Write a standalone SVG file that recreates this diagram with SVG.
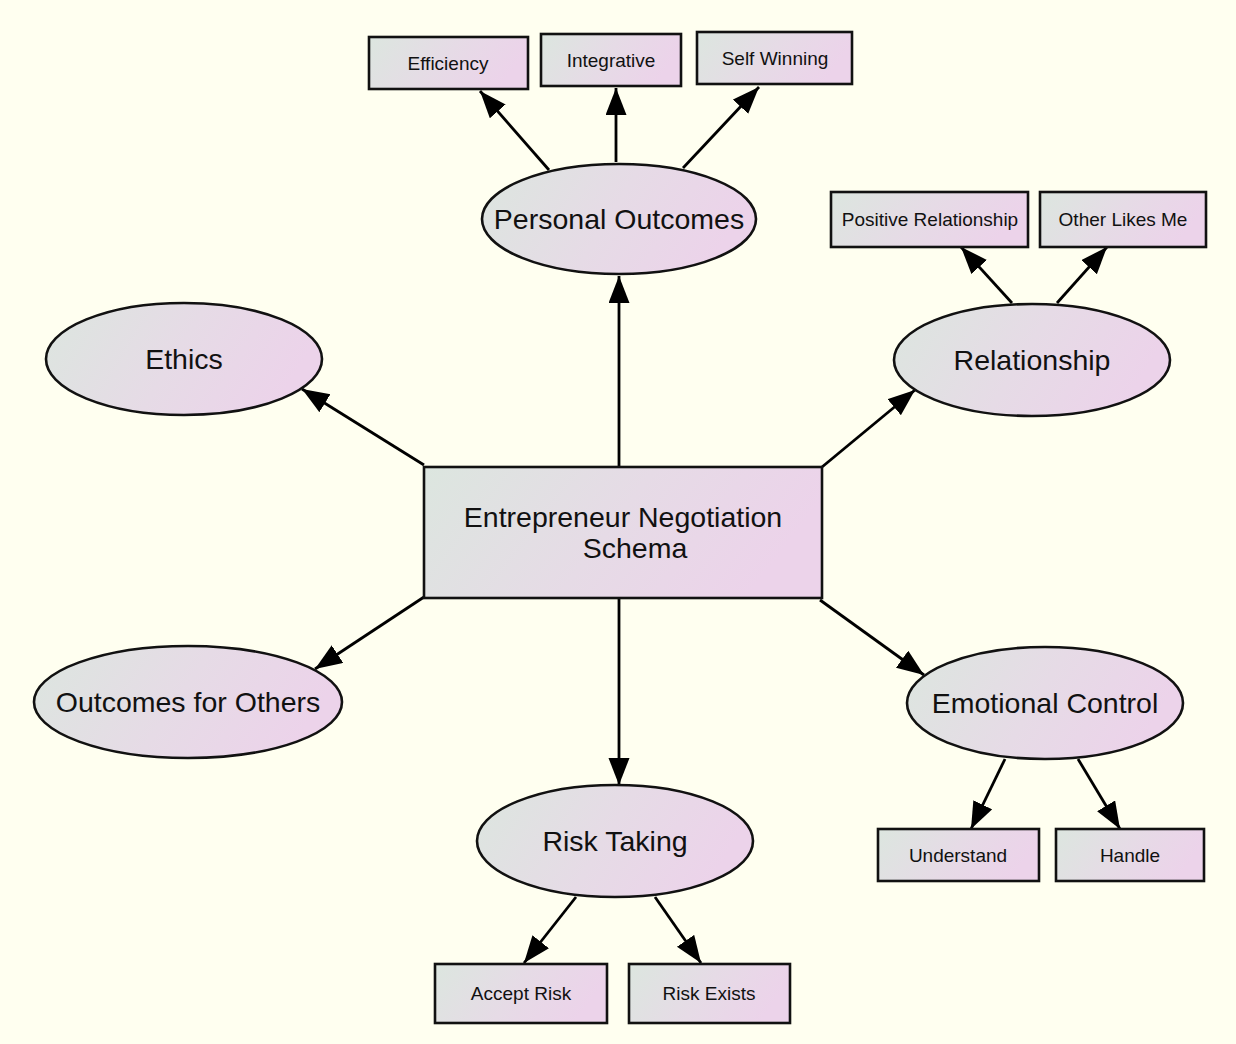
<svg xmlns="http://www.w3.org/2000/svg" width="1236" height="1044" viewBox="0 0 1236 1044">
  <style>
    .node { stroke: #111; stroke-width: 2.6; fill: url(#fillGrad); }
    .edge { stroke: #000; stroke-width: 2.8; fill: none; marker-end: url(#arrow); }
    .big { font-family: "Liberation Sans", Arial, sans-serif; font-size: 28.5px; fill: #111; text-anchor: middle; }
    .small { font-family: "Liberation Sans", Arial, sans-serif; font-size: 19px; fill: #111; text-anchor: middle; }
  </style>
  <defs>
    <linearGradient id="fillGrad" x1="0" y1="0" x2="1" y2="0.25">
      <stop offset="0" stop-color="#dce6df"/>
      <stop offset="0.55" stop-color="#e6dbe6"/>
      <stop offset="1" stop-color="#ecd3ea"/>
    </linearGradient>
    <marker id="arrow" markerUnits="userSpaceOnUse" markerWidth="28" markerHeight="22" refX="27" refY="10.5" orient="auto">
      <path d="M0,0 L27,10.5 L0,21 z" fill="#000"/>
    </marker>
  </defs>

  <rect x="0" y="0" width="1236" height="1044" fill="#fffff0"/>

  <!-- connectors -->
  <g id="edges">
    <line class="edge" x1="619" y1="467" x2="619" y2="276"/>
    <line class="edge" x1="549" y1="170" x2="480" y2="91"/>
    <line class="edge" x1="616" y1="162" x2="616" y2="88"/>
    <line class="edge" x1="683" y1="168" x2="759" y2="87"/>
    <line class="edge" x1="424" y1="465" x2="302" y2="389"/>
    <line class="edge" x1="822" y1="467" x2="915" y2="390"/>
    <line class="edge" x1="424" y1="597" x2="315" y2="669"/>
    <line class="edge" x1="820" y1="600" x2="924" y2="675"/>
    <line class="edge" x1="619" y1="598" x2="619" y2="785"/>
    <line class="edge" x1="1012" y1="303" x2="961" y2="247"/>
    <line class="edge" x1="1057" y1="303" x2="1107" y2="247"/>
    <line class="edge" x1="1005" y1="759" x2="971" y2="829"/>
    <line class="edge" x1="1078" y1="759" x2="1120" y2="829"/>
    <line class="edge" x1="576" y1="897" x2="524" y2="963"/>
    <line class="edge" x1="655" y1="897" x2="701" y2="963"/>
  </g>

  <!-- central concept -->
  <g id="schema">
    <rect class="node" x="424" y="467" width="398" height="131"/>
    <text class="big" x="623" y="527">Entrepreneur Negotiation</text>
    <text class="big" x="635" y="558">Schema</text>
  </g>

  <!-- dimensions -->
  <g id="personal-outcomes">
    <ellipse class="node" cx="619" cy="219" rx="137" ry="55"/>
    <text class="big" x="619" y="229">Personal Outcomes</text>
  </g>
  <g id="ethics">
    <ellipse class="node" cx="184" cy="359" rx="138" ry="56"/>
    <text class="big" x="184" y="369">Ethics</text>
  </g>
  <g id="relationship">
    <ellipse class="node" cx="1032" cy="360" rx="138" ry="56"/>
    <text class="big" x="1032" y="370">Relationship</text>
  </g>
  <g id="outcomes-for-others">
    <ellipse class="node" cx="188" cy="702" rx="154" ry="56"/>
    <text class="big" x="188" y="712">Outcomes for Others</text>
  </g>
  <g id="emotional-control">
    <ellipse class="node" cx="1045" cy="703" rx="138" ry="56"/>
    <text class="big" x="1045" y="713">Emotional Control</text>
  </g>
  <g id="risk-taking">
    <ellipse class="node" cx="615" cy="841" rx="138" ry="56"/>
    <text class="big" x="615" y="851">Risk Taking</text>
  </g>

  <!-- sub-items -->
  <g id="efficiency">
    <rect class="node" x="369" y="37" width="159" height="52"/>
    <text class="small" x="448" y="70">Efficiency</text>
  </g>
  <g id="integrative">
    <rect class="node" x="541" y="34" width="140" height="52"/>
    <text class="small" x="611" y="67">Integrative</text>
  </g>
  <g id="self-winning">
    <rect class="node" x="697" y="32" width="155" height="52"/>
    <text class="small" x="775" y="65">Self Winning</text>
  </g>
  <g id="positive-relationship">
    <rect class="node" x="831" y="192" width="197" height="55"/>
    <text class="small" x="930" y="226">Positive Relationship</text>
  </g>
  <g id="other-likes-me">
    <rect class="node" x="1040" y="192" width="166" height="55"/>
    <text class="small" x="1123" y="226">Other Likes Me</text>
  </g>
  <g id="understand">
    <rect class="node" x="878" y="829" width="161" height="52"/>
    <text class="small" x="958" y="862">Understand</text>
  </g>
  <g id="handle">
    <rect class="node" x="1056" y="829" width="148" height="52"/>
    <text class="small" x="1130" y="862">Handle</text>
  </g>
  <g id="accept-risk">
    <rect class="node" x="435" y="964" width="172" height="59"/>
    <text class="small" x="521" y="1000">Accept Risk</text>
  </g>
  <g id="risk-exists">
    <rect class="node" x="629" y="964" width="161" height="59"/>
    <text class="small" x="709" y="1000">Risk Exists</text>
  </g>
</svg>
